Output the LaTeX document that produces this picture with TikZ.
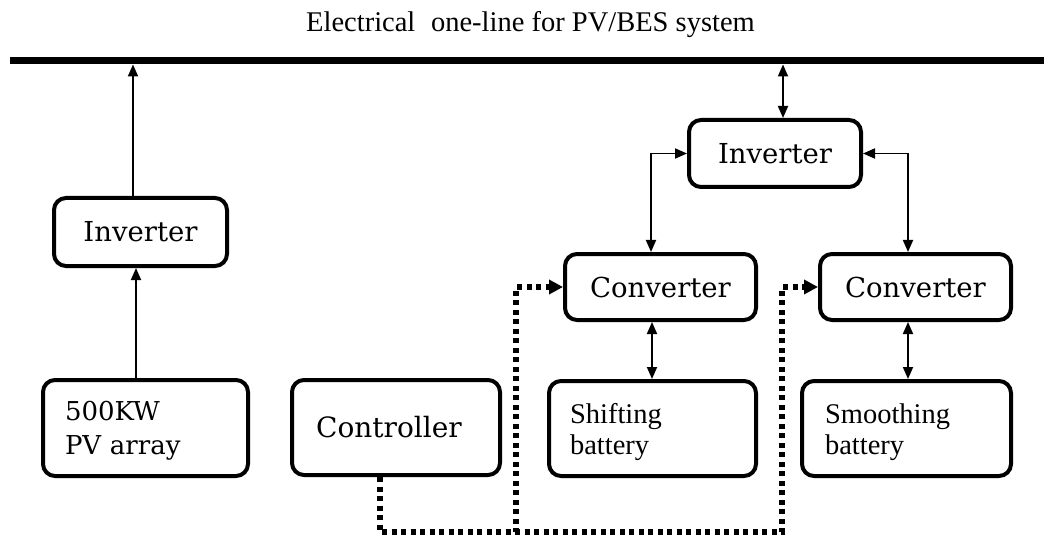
\documentclass[tikz,border=0pt]{standalone}
\usepackage{fontspec}
\setmainfont{Liberation Serif}
\newfontfamily\boxfont{DejaVu Serif}
\usetikzlibrary{arrows.meta,calc}
\begin{document}
\begin{tikzpicture}[x=1pt,y=-1pt,
  box/.style={draw, line width=4pt, rounded corners=12pt, inner sep=0pt,
    font=\boxfont\fontsize{27.5}{33}\selectfont},
  mbox/.style={box, align=left},
  conn/.style={line width=1.8pt, -{Triangle[length=12pt,width=10pt]}},
  bconn/.style={line width=1.8pt, {Triangle[length=12pt,width=10pt]}-{Triangle[length=12pt,width=10pt]}},
  ctl/.style={line width=5.5pt, dash pattern=on 5pt off 4.5pt, -{Triangle[length=14pt,width=14pt]}},
  titletext/.style={font=\fontsize{28.5}{34}\selectfont, inner sep=0pt, anchor=base}
]
\useasboundingbox (0,0) rectangle (1044,540);

% title
\node[titletext] (title) at (530.5,32) {Electrical\hspace{0.3em} one-line for PV/BES system};

% bus bar
\node[fill=black, minimum width=1034pt, minimum height=7.5pt, inner sep=0pt] (bus) at (527,60.5) {};

% boxes
\node[box, minimum width=173pt, minimum height=68pt] (invL) at (140.5,232) {Inverter};
\node[mbox, text width=161pt, inner xsep=22pt, minimum height=96pt,
      font=\boxfont\fontsize{26}{34.5}\selectfont] (pv) at (145.5,428) {\rule{0pt}{25pt}500KW\\PV array};
\node[box, minimum width=208pt, minimum height=95pt, font=\boxfont\fontsize{28}{33}\selectfont] (ctrl) at (396,427.5) {Controller\hspace*{14pt}};
\node[box, minimum width=191pt, minimum height=66pt] (conv1) at (660.5,287) {Converter};
\node[mbox, text width=165pt, inner xsep=21pt, minimum height=95pt,
      font=\fontsize{28.5}{31}\selectfont] (shift) at (652.5,428.5) {\rule{0pt}{27.5pt}Shifting\\battery};
\node[box, minimum width=191pt, minimum height=66pt] (conv2) at (915.5,287) {Converter};
\node[mbox, text width=163pt, inner xsep=23pt, minimum height=95pt,
      font=\fontsize{28.5}{31}\selectfont] (smooth) at (906.5,428.5) {\rule{0pt}{27.5pt}Smoothing\\battery};
\node[box, minimum width=172pt, minimum height=67pt] (invR) at (775,153.5) {Inverter};

% helper x positions
\coordinate (xa) at (136,0);
\coordinate (xb) at (133,0);
\coordinate (xc) at (783,0);
\coordinate (xd) at (651,0);
\coordinate (xe) at (908,0);
\coordinate (xf) at (652,0);
\coordinate (cb) at (380,532);
\coordinate (j1) at (516,0);
\coordinate (j2) at (782,0);

% power connectors
\draw[conn] (pv.north -| xa) -- (invL.south -| xa);
\draw[conn] (invL.north -| xb) -- (bus.south -| xb);
\draw[bconn] (bus.south -| xc) -- (invR.north -| xc);
\draw[bconn] (invR.west) -| (conv1.north -| xd);
\draw[bconn] (invR.east) -| (conv2.north -| xe);
\draw[bconn] (conv1.south -| xf) -- (shift.north -| xf);
\draw[bconn] (conv2.south -| xe) -- (smooth.north -| xe);

% control signals
\draw[ctl] (ctrl.south -| cb) -- (cb) -- (cb -| j1) -- (j1 |- conv1.west) -- (conv1.west);
\draw[ctl] (ctrl.south -| cb) -- (cb) -- (cb -| j2) -- (j2 |- conv2.west) -- (conv2.west);
\end{tikzpicture}
\end{document}
